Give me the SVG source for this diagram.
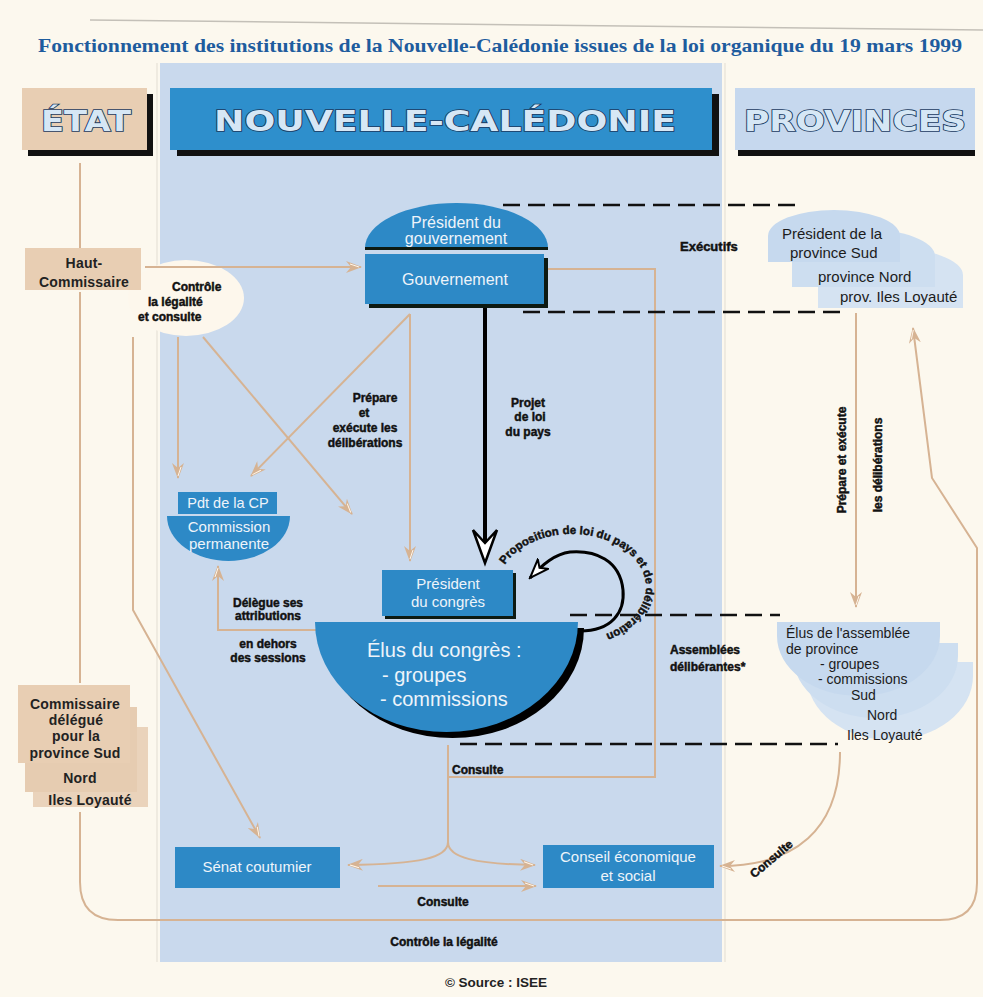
<svg xmlns="http://www.w3.org/2000/svg" width="983" height="997" viewBox="0 0 983 997">
<defs>
<style>
.tan{fill:none;stroke:#d6b393;stroke-width:2}
.lbl{font-family:"Liberation Sans",Arial,sans-serif;font-weight:bold;font-size:12px;fill:#111;stroke:#111;stroke-width:0.45}
.wt{font-family:"Liberation Sans",Arial,sans-serif;fill:#eef4fa;font-size:14.5px}
.dk{font-family:"Liberation Sans",Arial,sans-serif;fill:#1c1c1c;font-size:15px}
.bk{font-family:"Liberation Sans",Arial,sans-serif;font-weight:bold;fill:#222;font-size:14px;letter-spacing:0.2px}
.hdr{font-family:"DejaVu Sans",sans-serif;font-weight:bold;font-size:28px;fill:#d6e7f5;stroke:#1b3a60;stroke-width:1.6;paint-order:stroke fill}
.dash{stroke:#111;stroke-width:2.5;stroke-dasharray:17 8;fill:none}
.blue{fill:#2d89c6}
.beige{fill:#e8ceb3}
.mid{text-anchor:middle}
</style>
<marker id="ta" viewBox="0 0 16 12" refX="15" refY="6" markerWidth="16" markerHeight="12" markerUnits="userSpaceOnUse" orient="auto">
<path d="M0,0 L16,6 L0,12 L5,6 Z" fill="#d6b393"/>
<path d="M4,3 L13,6" stroke="#fff6ea" stroke-width="1"/>
</marker>
<marker id="bka" viewBox="0 0 22 16" refX="20" refY="8" markerWidth="22" markerHeight="16" markerUnits="userSpaceOnUse" orient="auto">
<path d="M1,1 L20,8 L1,15 L6,8 Z" fill="#fff" stroke="#000" stroke-width="2"/>
</marker>
</defs>
<rect width="983" height="997" fill="#fcf8ee"/>
<path d="M90,20 Q500,24 983,30" stroke="#c4c0b8" stroke-width="1.5" fill="none"/>
<rect x="160" y="63" width="562" height="899" fill="#c9d9ed"/>
<line x1="157" y1="63" x2="157" y2="962" stroke="#e2ddd2" stroke-width="1"/>
<line x1="725" y1="63" x2="725" y2="962" stroke="#e2ddd2" stroke-width="1"/>

<g id="title"><text x="500" y="52" class="mid" textLength="924" lengthAdjust="spacingAndGlyphs" style="font-family:'Liberation Serif',serif;font-weight:bold;font-size:19.5px;fill:#1e5c9e">Fonctionnement des institutions de la Nouvelle-Calédonie issues de la loi organique du 19 mars 1999</text></g>

<g id="hdr-etat">
<rect x="28" y="94" width="125" height="62" fill="#111"/>
<rect x="22" y="88" width="125" height="62" class="beige"/>
<text x="86" y="131" class="hdr mid" textLength="90" lengthAdjust="spacingAndGlyphs">ÉTAT</text>
</g>
<g id="hdr-nc">
<rect x="177" y="94" width="542" height="62" fill="#111"/>
<rect x="170" y="88" width="542" height="62" fill="#2e8fcc"/>
<text x="445" y="131" class="hdr mid" textLength="462" lengthAdjust="spacingAndGlyphs">NOUVELLE-CALÉDONIE</text>
</g>
<g id="hdr-prov">
<rect x="738" y="150" width="237" height="6" fill="#111"/>
<rect x="735" y="88" width="240" height="62" fill="#c6d8ee"/>
<text x="855" y="131" class="hdr mid" textLength="222" lengthAdjust="spacingAndGlyphs">PROVINCES</text>
</g>

<g id="controle">
<ellipse cx="186" cy="298" rx="58" ry="38" fill="#fdf7ec"/>
</g>

<g id="connectors">
<path class="tan" d="M80,163 V250 M80,292 V683 M80,812 V882 Q80,920 118,920 H940 Q977,920 977,883 V548 L932,478 L913,328" marker-end="url(#ta)"/>
<path class="tan" d="M145,267 H361" marker-end="url(#ta)"/>
<path class="tan" d="M178,337 V478" marker-end="url(#ta)"/>
<path class="tan" d="M203,337 L352,514" marker-end="url(#ta)"/>
<path class="tan" d="M133,337 V610 L260,838" marker-end="url(#ta)"/>
<path class="tan" d="M410,314 L251,476" marker-end="url(#ta)"/>
<path class="tan" d="M410,314 V561" marker-end="url(#ta)"/>
<path class="tan" d="M548,269 H655 V777 H448"/>
<path class="tan" d="M318,630 H218 V566" marker-end="url(#ta)"/>
<path class="tan" d="M448,745 V842"/>
<path class="tan" d="M448,842 C448,858 420,864 348,865" marker-end="url(#ta)"/>
<path class="tan" d="M448,842 C448,858 476,864 535,865" marker-end="url(#ta)"/>
<path class="tan" d="M378,886 H536" marker-end="url(#ta)"/>
<path class="tan" d="M856,313 V607" marker-end="url(#ta)"/>
<path class="tan" d="M840,752 C840,830 795,866 720,866" marker-end="url(#ta)"/>
<path class="dash" d="M503,205 H800"/>
<path class="dash" d="M523,312 H848"/>
<path class="dash" d="M570,615 H780"/>
<path class="dash" d="M460,744 H838"/>
<path d="M485,306 V548" stroke="#000" stroke-width="4" fill="none"/>
<path d="M473,530 L485,563 L497,530 L485,543 Z" fill="#fff" stroke="#000" stroke-width="2.5"/>
<path d="M580,631 C612,631 625,612 623,590 C620,560 595,550 570,552 C555,554 543,564 530,578" stroke="#000" stroke-width="3" fill="none" marker-end="url(#bka)"/>
<path id="propArc" d="M504.9,564.6 A74,53 0 1 1 594.9,637.4" fill="none"/>
</g>

<g id="labels">
<text class="lbl" style="font-size:11.5px"><textPath href="#propArc">Proposition de loi du pays et de délibération</textPath></text>
<text x="680" y="251" class="lbl" style="font-size:13px">Exécutifs</text>
<text class="lbl mid"><tspan x="375" y="402">Prépare</tspan><tspan x="364" y="417">et</tspan><tspan x="365" y="432">exécute les</tspan><tspan x="365" y="447">délibérations</tspan></text>
<text class="lbl mid"><tspan x="528" y="407">Projet</tspan><tspan x="530" y="421">de loi</tspan><tspan x="528" y="436">du pays</tspan></text>
<text class="lbl mid"><tspan x="268" y="607">Délègue ses</tspan><tspan x="268" y="620">attributions</tspan><tspan x="268" y="648">en dehors</tspan><tspan x="268" y="662">des sessions</tspan></text>
<text x="452" y="774" class="lbl">Consulte</text>
<text class="lbl"><tspan x="670" y="654">Assemblées</tspan><tspan x="670" y="671">délibérantes*</tspan></text>
<text x="443" y="906" class="lbl mid">Consulte</text>
<text x="444" y="946" class="lbl mid">Contrôle la légalité</text>
<text class="lbl mid" transform="translate(774,862) rotate(-40)">Consulte</text>
<text class="lbl mid" transform="translate(846,460) rotate(-90)">Prépare et exécute</text>
<text class="lbl mid" transform="translate(882,465) rotate(-90)">les délibérations</text>
<text class="lbl"><tspan x="172" y="291">Contrôle</tspan><tspan x="148" y="306">la légalité</tspan><tspan x="138" y="321">et consulte</tspan></text>
</g>

<g id="haut-commissaire">
<rect x="25" y="248" width="116" height="42" class="beige"/>
<text class="bk mid"><tspan x="84" y="268">Haut-</tspan><tspan x="84" y="287">Commissaire</tspan></text>
</g>

<g id="gouvernement">
<path d="M365,248 A91.5,45 0 0 1 548,248 Z" class="blue"/>
<rect x="365" y="247" width="183" height="3" fill="#0d1a12"/>
<text class="wt mid" style="font-size:16px"><tspan x="456" y="228">Président du</tspan><tspan x="456" y="244">gouvernement</tspan></text>
<rect x="369" y="258" width="179" height="50" fill="#0d1a12"/>
<rect x="365" y="254" width="179" height="50" class="blue"/>
<text x="455" y="285" class="wt mid" style="font-size:16px">Gouvernement</text>
</g>

<g id="president-province">
<path d="M818,308 V275 A72.5,27 0 0 1 963,275 V308 Z" fill="#d5e3f2"/>
<path d="M792,287 V256 A71.5,27 0 0 1 935,256 V287 Z" fill="#cddef0"/>
<path d="M768,262 V236 A66,26 0 0 1 900,236 V262 Z" fill="#c6d9ee"/>
<text class="dk"><tspan x="782" y="239">Président de la</tspan><tspan x="790" y="258">province Sud</tspan><tspan x="818" y="282">province Nord</tspan><tspan x="840" y="302">prov. Iles Loyauté</tspan></text>
</g>

<g id="commission-permanente">
<rect x="178" y="492" width="99" height="22" class="blue"/>
<text x="228" y="508" class="wt mid">Pdt de la CP</text>
<path d="M167,516 H290 A61.5,45 0 0 1 167,516 Z" class="blue"/>
<text class="wt mid" style="font-size:15px"><tspan x="229" y="532">Commission</tspan><tspan x="229" y="549">permanente</tspan></text>
</g>

<g id="president-congres">
<rect x="385" y="573" width="131" height="46" fill="#0d1a12"/>
<rect x="382" y="570" width="131" height="46" class="blue"/>
<text class="wt mid" style="font-size:15px"><tspan x="448" y="589">Président</tspan><tspan x="448" y="607">du congrès</tspan></text>
</g>

<g id="elus-congres">
<path d="M321,628 H584 A131.5,110 0 0 1 321,628 Z" fill="#000"/>
<path d="M315,622 H578 A131.5,110 0 0 1 315,622 Z" class="blue"/>
<text class="wt" style="font-size:20px"><tspan x="367" y="657">Élus du congrès :</tspan><tspan x="382" y="682">- groupes</tspan><tspan x="380" y="706">- commissions</tspan></text>
</g>

<g id="elus-province">
<path d="M807,662 H973 V676 A83,64 0 0 1 807,676 Z" fill="#d5e3f2"/>
<path d="M793,643 H958 V656 A82.5,62 0 0 1 793,656 Z" fill="#cddef0"/>
<path d="M777,622 H940 V636 A81.5,60 0 0 1 777,636 Z" fill="#c6d9ee"/>
<text class="dk" style="font-size:14px"><tspan x="786" y="638">Élus de l'assemblée</tspan><tspan x="786" y="654">de province</tspan><tspan x="820" y="669">- groupes</tspan><tspan x="818" y="684">- commissions</tspan><tspan x="851" y="700">Sud</tspan><tspan x="867" y="720">Nord</tspan><tspan x="847" y="740">Iles Loyauté</tspan></text>
</g>

<g id="commissaire-delegue">
<rect x="33" y="727" width="115" height="80" fill="#ead3bb"/>
<rect x="25" y="707" width="112" height="85" fill="#e6ccb1"/>
<rect x="18" y="685" width="112" height="78" class="beige"/>
<text class="bk mid"><tspan x="75" y="709">Commissaire</tspan><tspan x="76" y="725">délégué</tspan><tspan x="76" y="741">pour la</tspan><tspan x="75" y="758">province Sud</tspan><tspan x="80" y="783">Nord</tspan><tspan x="90" y="805">Iles Loyauté</tspan></text>
</g>

<g id="senat">
<rect x="175" y="847" width="165" height="41" class="blue"/>
<text x="257" y="872" class="wt mid" style="font-size:15px">Sénat coutumier</text>
</g>
<g id="conseil">
<rect x="543" y="845" width="171" height="43" class="blue"/>
<text class="wt mid" style="font-size:15px"><tspan x="628" y="862">Conseil économique</tspan><tspan x="628" y="881">et social</tspan></text>
</g>

<g id="source"><text x="496" y="987" class="mid" style="font-family:'Liberation Sans',Arial,sans-serif;font-weight:bold;font-size:13.5px;fill:#222">© Source : ISEE</text></g>
</svg>
